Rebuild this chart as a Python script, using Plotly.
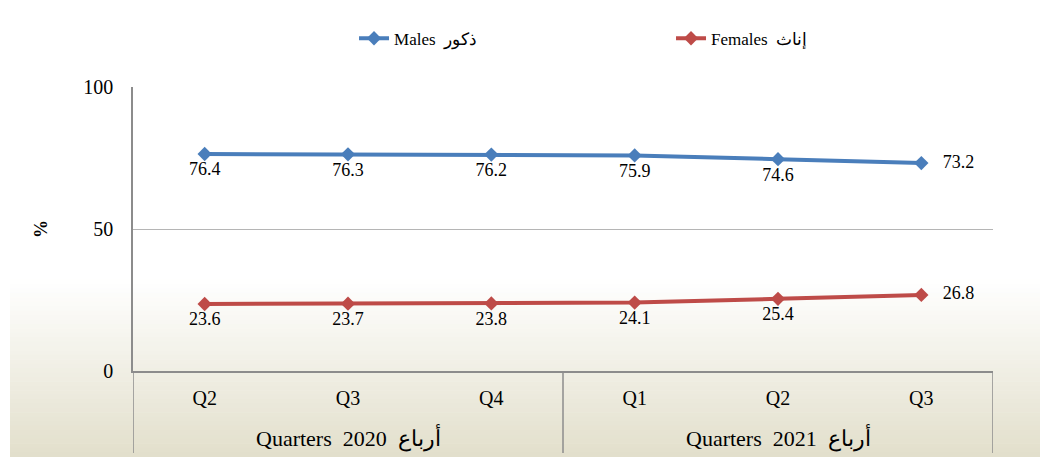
import plotly.graph_objects as go


years = ["2020", "2020", "2020", "2021", "2021", "2021"]
quarters = ["Q2", "Q3", "Q4", "Q1", "Q2", "Q3"]
year_labels = {"2020": "Quarters  2020  أرباع", "2021": "Quarters  2021  أرباع"}

males = [76.4, 76.3, 76.2, 75.9, 74.6, 73.2]
females = [23.6, 23.7, 23.8, 24.1, 25.4, 26.8]

y_ticks = [0, 50, 100]

FONT = "Liberation Serif, Times New Roman, DejaVu Serif, serif"
BLUE = "#4a7ebb"
RED = "#be4b48"
LINE = "#8c8c8c"

periods = [f"{y} {q}" for y, q in zip(years, quarters)]

# label under each point, last one to the right
label_pos = ["bottom center"] * (len(periods) - 1) + ["middle right"]


def labels(vals):
    out = [f"{v:.1f}" for v in vals]
    out[-1] = "\u00a0\u00a0\u00a0" + out[-1]
    return out


fig = go.Figure()

for name, vals, col in [
    ("Males  ذكور", males, BLUE),
    ("Females  إناث", females, RED),
]:
    fig.add_trace(
        go.Scatter(
            x=periods,
            y=vals,
            mode="lines+markers+text",
            name=name,
            line=dict(color=col, width=4),
            marker=dict(symbol="diamond", size=11, color=col),
            text=labels(vals),
            textposition=label_pos,
            textfont=dict(family=FONT, size=18, color="black"),
            cliponaxis=False,
        )
    )


# background: white on top, fading to beige toward the bottom
top_px, bottom_px = 280, 457
plot_top, plot_bottom = 87, 371
h = plot_bottom - plot_top
steps = 40
c0 = (255, 255, 255)
c1 = (226, 223, 203)

for i in range(steps):
    t = (i + 0.5) / steps
    p0 = top_px + (bottom_px - top_px) * i / steps
    p1 = top_px + (bottom_px - top_px) * (i + 1) / steps
    col = tuple(round(a + (b - a) * t) for a, b in zip(c0, c1))
    fig.add_shape(
        type="rect",
        xref="paper",
        yref="paper",
        x0=(10 - 133) / 860,
        x1=(1040 - 133) / 860,
        y0=(plot_bottom - p1) / h,
        y1=(plot_bottom - p0 + 0.5) / h,
        fillcolor="rgb(%d,%d,%d)" % col,
        line_width=0,
        layer="below",
    )


# group dividers under the axis
group_bottom = (plot_bottom - 453) / h
edges = [-0.5]
for i in range(1, len(years)):
    if years[i] != years[i - 1]:
        edges.append(i - 0.5)
edges.append(len(years) - 0.5)

for e in edges:
    fig.add_shape(
        type="line",
        xref="x",
        yref="paper",
        x0=e,
        x1=e,
        y0=0,
        y1=group_bottom,
        line=dict(color=LINE, width=1.5),
    )

# year labels centered under each group
for y in dict.fromkeys(years):
    idx = [i for i, v in enumerate(years) if v == y]
    fig.add_annotation(
        x=sum(idx) / len(idx),
        xref="x",
        y=(plot_bottom - 437) / h,
        yref="paper",
        text=year_labels[y],
        showarrow=False,
        font=dict(family=FONT, size=22, color="black"),
        yanchor="middle",
    )


fig.update_layout(
    width=1040,
    height=457,
    margin=dict(l=133, r=47, t=87, b=86, autoexpand=False),
    paper_bgcolor="white",
    plot_bgcolor="rgba(0,0,0,0)",
    font=dict(family=FONT, size=19, color="black"),
    showlegend=True,
    legend=dict(
        orientation="h",
        x=0.257,
        y=1.17,
        xanchor="left",
        yanchor="middle",
        font=dict(family=FONT, size=17, color="black"),
        entrywidth=272,
        bgcolor="rgba(0,0,0,0)",
    ),
)

fig.update_xaxes(
    type="category",
    range=[-0.5, 5.5],
    tickvals=periods,
    ticktext=quarters,
    showgrid=False,
    showline=True,
    linecolor=LINE,
    linewidth=1.5,
    ticks="",
    ticklabelstandoff=8,
    tickfont=dict(family=FONT, size=20, color="black"),
    automargin=False,
)

fig.update_yaxes(
    range=[0, 100],
    tickvals=y_ticks,
    showgrid=True,
    gridcolor="#b5b5b5",
    gridwidth=1,
    showline=True,
    linecolor=LINE,
    linewidth=1.5,
    zeroline=False,
    ticks="",
    ticklabelstandoff=14,
    tickfont=dict(family=FONT, size=20, color="black"),
    automargin=False,
    title=dict(
        text="<b>%</b>",
        font=dict(family=FONT, size=18, color="black"),
        standoff=31,
    ),
)

fig.write_html(
    "out.html",
    config={"displayModeBar": False},
    post_script="document.body.style.margin='0';",
)
